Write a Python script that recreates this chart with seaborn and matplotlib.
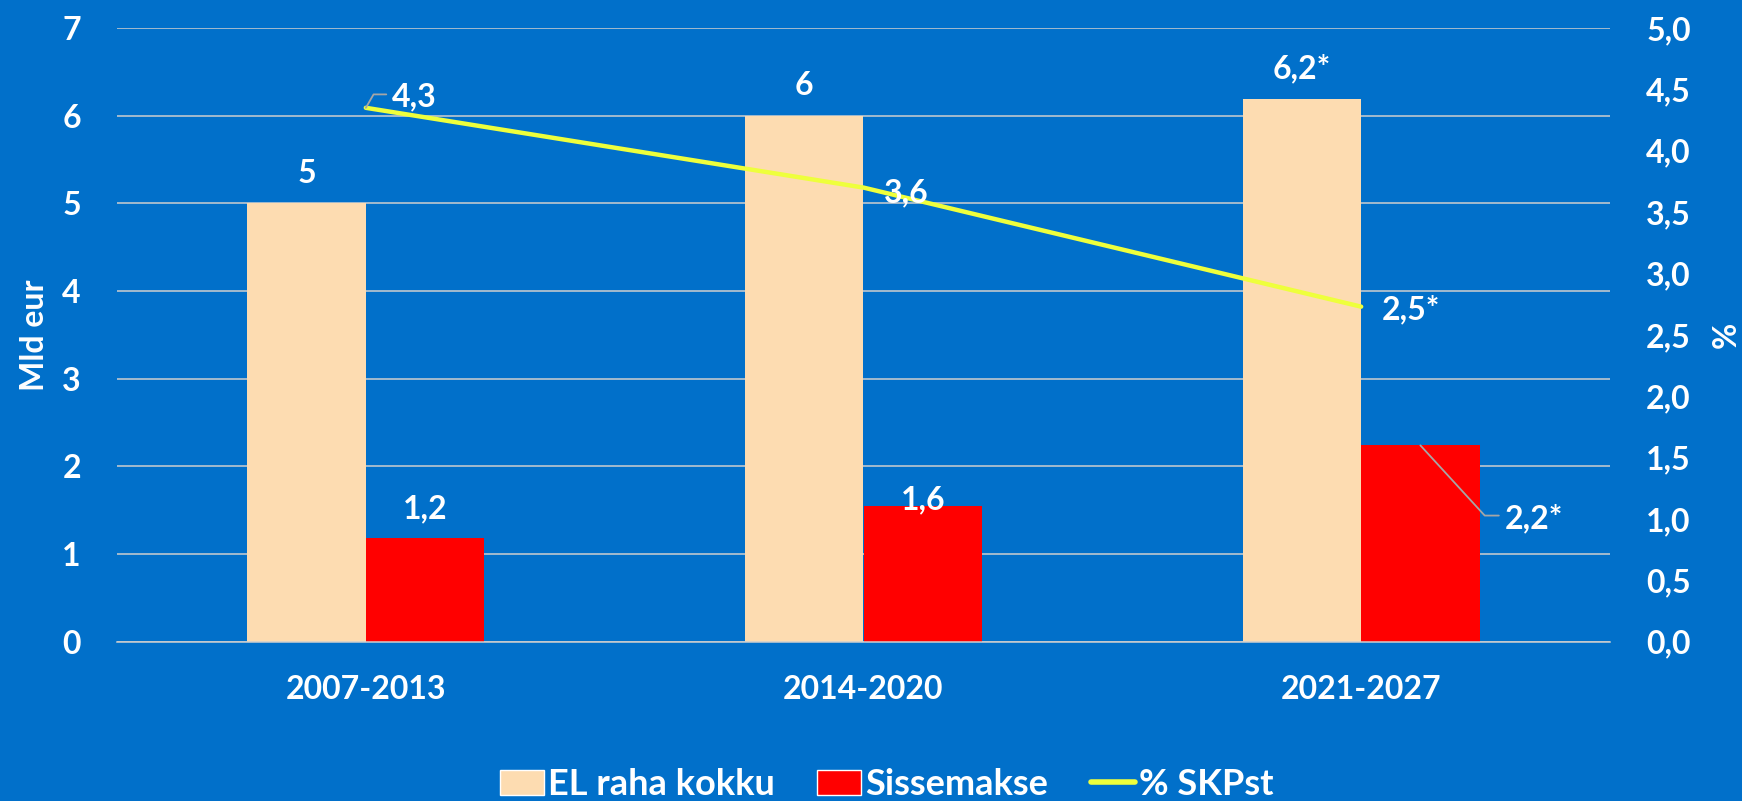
import numpy as np
import pandas as pd
import matplotlib
matplotlib.use("Agg")
import matplotlib.pyplot as plt
import seaborn as sns
from matplotlib.patches import Patch
from matplotlib.lines import Line2D
from matplotlib.ticker import FuncFormatter, MultipleLocator, FixedLocator

# data
periods = ["2007-2013", "2014-2020", "2021-2027"]
el_total = [5.0, 6.0, 6.19]
contribution = [1.18, 1.55, 2.24]
pct_gdp = [4.35, 3.70, 2.73]
el_total_labels = ["5", "6", "6,2*"]
contribution_labels = ["1,2", "1,6", "2,2*"]
pct_labels = ["4,3", "3,6", "2,5*"]
series_names = ["EL raha kokku", "Sissemakse", "% SKPst"]

# colours
BG = "#0170CA"
BEIGE = "#FDDCB1"
RED = "#FF0000"
YELLOW = "#EEFF3C"
GRID = "#CFCFCF"
LEADER = "#A6A6A6"
FS = 23
LEG_FS = 26
FW = "bold"

sns.set_theme(style="white")
plt.rcParams["font.family"] = ["Lato", "DejaVu Sans"]
plt.rcParams["font.weight"] = FW

df = pd.DataFrame({
    "period": periods * 2,
    "value": el_total + contribution,
    "series": [series_names[0]] * len(periods) + [series_names[1]] * len(periods),
})

fig = plt.figure(figsize=(17.42, 8.01), dpi=100, facecolor=BG)
ax = fig.add_axes([117 / 1742, 1 - 641.8 / 801, (1610 - 117) / 1742, (641.8 - 28) / 801])
ax.set_facecolor(BG)

sns.barplot(data=df, x="period", y="value", hue="series",
            palette={series_names[0]: BEIGE, series_names[1]: RED},
            width=0.476, saturation=1, legend=False, linewidth=0, ax=ax)
ax.set_xlim(-0.5, len(periods) - 0.5)
ax.set_ylim(0, 7)
ax.yaxis.set_major_locator(MultipleLocator(1))
ax.set_axisbelow(True)
ax.yaxis.grid(True, color=GRID, lw=1.1)
ax.set_xlabel("")
ax.set_ylabel("Mld eur", fontsize=FS, color="white", fontweight=FW)
ax.yaxis.set_label_coords(-0.0455, 0.5)
for s in ["left", "right", "top"]:
    ax.spines[s].set_visible(False)
ax.spines["bottom"].set_color(GRID)
ax.spines["bottom"].set_linewidth(1.1)
ax.tick_params(axis="y", length=0, pad=26, labelsize=FS, labelcolor="white")
ax.tick_params(axis="x", which="major", length=0, pad=24, labelsize=FS, labelcolor="white")
ax.xaxis.set_minor_locator(FixedLocator(np.arange(len(periods) + 1) - 0.5))
ax.tick_params(axis="x", which="minor", length=8.5, width=1.1, color=GRID, direction="out")

# line on secondary axis
ax2 = ax.twinx()
sns.lineplot(x=np.arange(len(periods)), y=pct_gdp, ax=ax2, color=YELLOW, lw=3.2,
             solid_capstyle="round")
ax2.set_ylim(0, 5)
ax2.yaxis.set_major_locator(MultipleLocator(0.5))
ax2.yaxis.set_major_formatter(FuncFormatter(lambda v, p: f"{v:.1f}".replace(".", ",")))
ax2.tick_params(axis="y", length=0, pad=26, labelsize=FS, labelcolor="white")
ax2.set_ylabel("%", fontsize=FS, color="white", fontweight=FW)
ax2.yaxis.set_label_coords(1.068, 0.5)
for s in ax2.spines.values():
    s.set_visible(False)
ax2.grid(False)

txt = dict(fontsize=FS, color="white", fontweight=FW, textcoords="offset pixels",
           va="baseline", zorder=5)

# bar labels
el_offsets = [(0, 20), (0, 21), (0, 21)]
for bar, lab, off in zip(ax.containers[0], el_total_labels, el_offsets):
    ax2.annotate(lab, xy=(bar.get_x() + bar.get_width() / 2, bar.get_height()),
                 xycoords=ax.transData, xytext=off, ha="center", **txt)

contribution_offsets = [(0, 20), (0, -3), (84, -83)]
for i, (bar, lab, off) in enumerate(zip(ax.containers[1], contribution_labels, contribution_offsets)):
    kw = {}
    if i == 2:
        kw["arrowprops"] = dict(arrowstyle="-", color=LEADER, lw=1.3, shrinkA=4, shrinkB=0,
                                relpos=(0, 0.6), patchA=None,
                                connectionstyle="angle,angleA=0,angleB=-47.5,rad=0")
    ax2.annotate(lab, xy=(bar.get_x() + bar.get_width() / 2, bar.get_height()),
                 xycoords=ax.transData, xytext=off, ha="left" if i == 2 else "center",
                 **txt, **kw)

# line labels
pct_offsets = [(26, 1), (20, -15), (21, -13)]
for i, (v, lab, off) in enumerate(zip(pct_gdp, pct_labels, pct_offsets)):
    kw = {}
    if i == 0:
        kw["arrowprops"] = dict(arrowstyle="-", color=LEADER, lw=1.3, shrinkA=4, shrinkB=0,
                                relpos=(0, 0.6), patchA=None,
                                connectionstyle="angle,angleA=0,angleB=60,rad=0")
    ax2.annotate(lab, xy=(i, v), xytext=off, ha="left", **txt, **kw)

handles = [Patch(facecolor=BEIGE), Patch(facecolor=RED),
           Line2D([], [], color=YELLOW, lw=4, solid_capstyle="round")]
fig.legend(handles=handles, labels=series_names, loc="lower center",
           bbox_to_anchor=(0.509, 0.0), ncol=3, frameon=False,
           labelcolor="white", handlelength=1.22, handleheight=0.68, handletextpad=0.12,
           columnspacing=1.17, borderaxespad=0, borderpad=0,
           prop={"weight": FW, "size": LEG_FS})

fig.savefig("out.png", dpi=100, facecolor=BG)
